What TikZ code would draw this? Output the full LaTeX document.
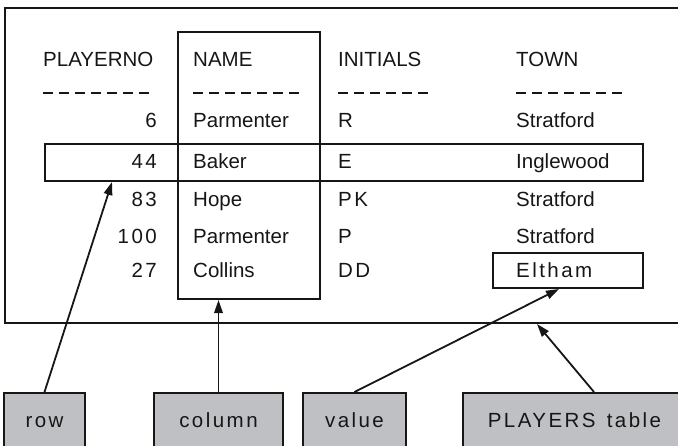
\documentclass[tikz,border=0pt]{standalone}
\usepackage{fontspec}
\setmainfont{Liberation Sans}
\newfontfamily\spacedfont{Liberation Sans}[LetterSpace=12]
\usetikzlibrary{arrows.meta}
\definecolor{labelgray}{HTML}{BFC0C4}
\definecolor{ink}{HTML}{161616}

\begin{document}
\begin{tikzpicture}[x=1pt,y=-1pt,
  frame/.style={draw=ink, line width=2pt, inner sep=0pt, anchor=north west},
  cell/.style={anchor=base west, inner sep=0pt, text=ink, font=\fontsize{20.5}{24}\selectfont},
  spcell/.style={cell, font=\fontsize{20.5}{24}\spacedfont},
  num/.style={anchor=base east, inner sep=0pt, text=ink, font=\fontsize{20.5}{24}\spacedfont},
  tag/.style={frame, fill=labelgray},
  tagtext/.style={anchor=base, inner sep=0pt, text=ink, font=\fontsize{20.5}{24}\spacedfont},
  rulerline/.style={draw=ink, line width=2pt, dash pattern=on 10pt off 6pt},
  arr/.style={draw=ink, line width=1.8pt, -{Triangle[length=13pt,width=8.5pt]}}
]
\clip (0,0) rectangle (678,445);

% the table frame, open past the right edge
\node[frame, minimum width=700pt, minimum height=315pt] (table) at (4,7) {};

% highlighted column, row and value
\node[frame, minimum width=142pt, minimum height=267pt] (namebox) at (177,31) {};
\node[frame, minimum width=598pt, minimum height=37pt] (rowbox) at (44,143) {};
\node[frame, minimum width=150pt, minimum height=35pt] (valbox) at (492,252) {};

% column headings
\node[cell] (hno) at (43,66) {PLAYERNO};
\node[cell] (hname) at (193,66) {NAME};
\node[cell] (hinit) at (338,66) {INITIALS};
\node[cell] (htown) at (516,66) {TOWN};

% underlines
\draw[rulerline] (43,93) -- (155,93);
\draw[rulerline] (193,93) -- (300,93);
\draw[rulerline] (338,93) -- (430,93);
\draw[rulerline] (516,93) -- (622,93);

% rows
\node[num] (n1) at (157,127) {6};
\node[cell] (m1) at (193,127) {Parmenter};
\node[cell] (i1) at (338,127) {R};
\node[cell] (t1) at (516,127) {Stratford};

\node[num] (n2) at (157,168) {44};
\node[cell] (m2) at (193,168) {Baker};
\node[cell] (i2) at (338,168) {E};
\node[cell] (t2) at (516,168) {Inglewood};

\node[num] (n3) at (157,206) {83};
\node[cell] (m3) at (193,206) {Hope};
\node[spcell] (i3) at (338,206) {PK};
\node[cell] (t3) at (516,206) {Stratford};

\node[num] (n4) at (157,243) {100};
\node[cell] (m4) at (193,243) {Parmenter};
\node[cell] (i4) at (338,243) {P};
\node[cell] (t4) at (516,243) {Stratford};

\node[num] (n5) at (157,277) {27};
\node[cell] (m5) at (193,277) {Collins};
\node[spcell] (i5) at (338,277) {DD};
\node[spcell] (t5) at (516,277) {Eltham};

% captions
\node[tag, minimum width=81pt, minimum height=70pt] (lrow) at (3,392) {};
\node[tag, minimum width=129pt, minimum height=70pt] (lcol) at (153,392) {};
\node[tag, minimum width=103pt, minimum height=70pt] (lval) at (302,392) {};
\node[tag, minimum width=223pt, minimum height=70pt] (ltab) at (462,392) {};

\node[tagtext] (trow) at (lrow.north |- 0,427) {row};
\node[tagtext] (tcol) at (lcol.north |- 0,427) {column};
\node[tagtext] (tval) at (lval.north |- 0,427) {value};
\node[tagtext] (ttab) at (ltab.north |- 0,427) {PLAYERS\hspace{3pt} table};

% pointers
\draw[arr] (lrow.north) -- ([xshift=68pt]rowbox.south west);
\draw[arr] (lcol.north) -- (lcol.north |- namebox.south);
\draw[arr] (lval.north) -- ([xshift=-9pt]valbox.south);
\draw[arr] ([xshift=19.5pt]ltab.north) -- ([xshift=533pt]table.south west);
\end{tikzpicture}
\end{document}
